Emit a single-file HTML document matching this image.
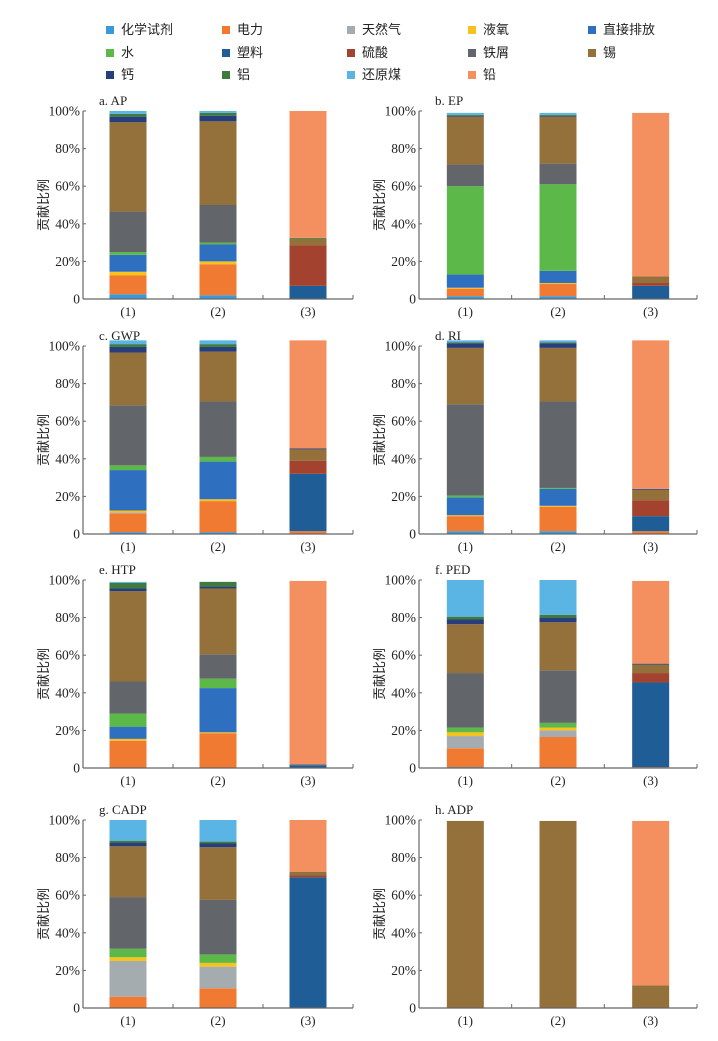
<!DOCTYPE html>
<html><head><meta charset="utf-8">
<style>
html,body{margin:0;padding:0;background:#fff;}
body{width:718px;height:1041px;position:relative;overflow:hidden;font-family:"Liberation Serif","Noto Serif CJK SC",serif;}
.leg{position:absolute;font-size:13px;color:#222;font-family:"Liberation Sans","Noto Sans CJK SC",sans-serif;white-space:nowrap;}
.leg i{display:inline-block;width:8px;height:8px;margin-right:7px;vertical-align:0px;}
</style></head>
<body>
<div id="legend"></div>
<svg id="chart" width="718" height="1041" style="position:absolute;left:0;top:0"></svg>
<script>
// stacking order (bottom -> top)
const seriesNames = ["化学试剂","电力","天然气","液氧","直接排放","水","塑料","硫酸","铁屑","锡","钙","铝","还原煤","铅"];
const seriesColors = ["#3a9ad9","#f07a32","#a5acb0","#f8c21c","#2e6fbf","#5cb848","#1f5d96","#a3432f","#62666b","#94703a","#283e7a","#3f7a3e","#5ab4e4","#f49060"];
const categories = ["(1)","(2)","(3)"];
const tickValues = [0,20,40,60,80,100];
const tickLabels = ["0","20%","40%","60%","80%","100%"];
const panelTitles = ["a. AP","b. EP","c. GWP","d. RI","e. HTP","f. PED","g. CADP","h. ADP"];
// values per panel: [bar1, bar2, bar3], each 14 series values (%)
const dataAP = [
 [2.5,10,0,2,9,1.5,0,0,21.5,47.5,3,1.5,1.5,0],
 [2,16.5,0,1.5,9,1,0,0,20,44.5,3,1.5,1,0],
 [0,0,0,0,0,0,7,21.5,0,3.5,0,0.5,0,67.5]];
const dataEP = [
 [1.5,4,0,0.5,7,47,0,0,11.5,25.5,0.5,0.5,1,0],
 [1.5,6.5,0,0.5,6.5,46,0,0,11,25,0.5,0.5,1,0],
 [0,0,0,0,0,0,7,1.5,0,3.5,0,0,0,87]];
const dataGWP = [
 [1,10,0.5,1,21.5,2.5,0,0,32,28,3,1.5,2,0],
 [1,16.5,0,1,20,2.5,0,0,29.5,26.5,2.5,1.5,2,0],
 [0,1.5,0,0,0,0,30.5,7,0,6,0.5,0,0,57.5]];
const dataRI = [
 [1.5,8,0,0.5,9.5,1,0,0,48.5,30,2.5,0.5,1,0],
 [1.5,13,0,0.5,9,0.5,0,0,46,28.5,2.5,0.5,1,0],
 [0,1.5,0,0,0,0,8,8.5,0,5.5,0.5,0,0,79]];
const dataHTP = [
 [0,14.5,0,1,6.5,7,0,0,17,48,1.5,3,0.5,0],
 [0,18.5,0,0.5,23.5,5,0,0,13,35,1,2.5,0,0],
 [0,0,0,0,0,0,1.5,0,0.5,0,0,0,0,97.5]];
const dataPED = [
 [0.5,10,6.5,2,0,2.5,0,0,29,26,2.5,1.5,19.5,0],
 [0,16.5,3.5,1.5,0,2.5,0,0,28,25.5,2.5,1.5,18.5,0],
 [0,0.5,0,0,0,0,45,5,0,4.5,0.5,0,0,44]];
const dataCADP = [
 [0,6,19,2,0,4.5,0,0,27.5,27,2,1,11,0],
 [0,10.5,11.5,2,0,4.5,0,0,29,28,2,1,11.5,0],
 [0,0,0,0,0,0,69.5,1,0,2,0,0,0,27.5]];
const dataADP = [
 [0,0,0,0,0,0,0,0,0,99.5,0,0,0,0],
 [0,0,0,0,0,0,0,0,0,99.5,0,0,0,0],
 [0,0,0,0,0,0,0,0,0,12,0,0,0,87.5]];
const panelData = [dataAP,dataEP,dataGWP,dataRI,dataHTP,dataPED,dataCADP,dataADP];

// legend
const leg = document.getElementById('legend');
const legCols = [106,222,347,468,588], legRows = [19,42,64];
seriesNames.forEach((n,i)=>{
  const d = document.createElement('div');
  d.className='leg';
  d.style.left = legCols[i%5]+'px';
  d.style.top = legRows[Math.floor(i/5)]+'px';
  d.innerHTML = '<i style="background:'+seriesColors[i]+'"></i>'+n;
  
  
  leg.appendChild(d);
});

const svg = document.getElementById('chart');
const NS = 'http://www.w3.org/2000/svg';
function mk(tag, attrs, parent){const e=document.createElementNS(NS,tag);for(const k in attrs)e.setAttribute(k,attrs[k]);parent.appendChild(e);return e;}

const layouts = [
 {x0:83,x1:353,top:111,base:299},{x0:419,x1:697,top:111,base:299},
 {x0:83,x1:353,top:346,base:534},{x0:419,x1:697,top:346,base:534},
 {x0:83,x1:353,top:580,base:768},{x0:419,x1:697,top:580,base:768},
 {x0:83,x1:353,top:820,base:1008},{x0:419,x1:697,top:820,base:1008}];

panelData.forEach((data,p)=>{
  const L = layouts[p];
  const g = mk('g',{},svg);
  
  
  const yS = v => L.base - v/100*(L.base-L.top);
  const cw = (L.x1-L.x0)/categories.length;
  const bw = 37;
  data.forEach((vals,c)=>{
    let cum = 0;
    const cx = L.x0 + cw*(c+0.5);
    vals.forEach((v,s)=>{
      if(v<=0) return;
      const r = mk('rect',{x:cx-bw/2,y:yS(cum+v),width:bw,height:yS(cum)-yS(cum+v),fill:seriesColors[s]},g);
      
      
      cum += v;
    });
    const t = mk('text',{x:cx,y:L.base+17,'text-anchor':'middle','font-size':13,fill:'#222'},g);
    t.textContent = categories[c];
    
    
  });
  const ya = mk('line',{x1:L.x0,y1:L.top,x2:L.x0,y2:L.base,stroke:'#666','stroke-width':1.2},g);
  
  
  const xa = mk('line',{x1:L.x0,y1:L.base,x2:L.x1,y2:L.base,stroke:'#666','stroke-width':1.2},g);
  
  
  for(let c=1;c<=categories.length;c++){
    mk('line',{x1:L.x0+cw*c,y1:L.base-4,x2:L.x0+cw*c,y2:L.base,stroke:'#666','stroke-width':1},g);
  }
  tickValues.forEach((v,i)=>{
    mk('line',{x1:L.x0,y1:yS(v),x2:L.x0+3,y2:yS(v),stroke:'#666','stroke-width':1},g);
    const t = mk('text',{x:L.x0-3,y:yS(v)+4.5,'text-anchor':'end','font-size':13.5,fill:'#222'},g);
    t.textContent = tickLabels[i];
    
    
  });
  const yt = mk('text',{x:0,y:0,'text-anchor':'middle','font-size':13,fill:'#222',transform:'translate('+(L.x0-35)+','+((L.top+L.base)/2)+') rotate(-90)','font-family':'"Liberation Sans","Noto Sans CJK SC",sans-serif'},g);
  yt.textContent = '贡献比例';
  
  
  const tt = mk('text',{x:L.x0+16,y:L.top-6,'font-size':13,fill:'#222'},g);
  tt.textContent = panelTitles[p];
  
  
});
</script>
</body></html>
